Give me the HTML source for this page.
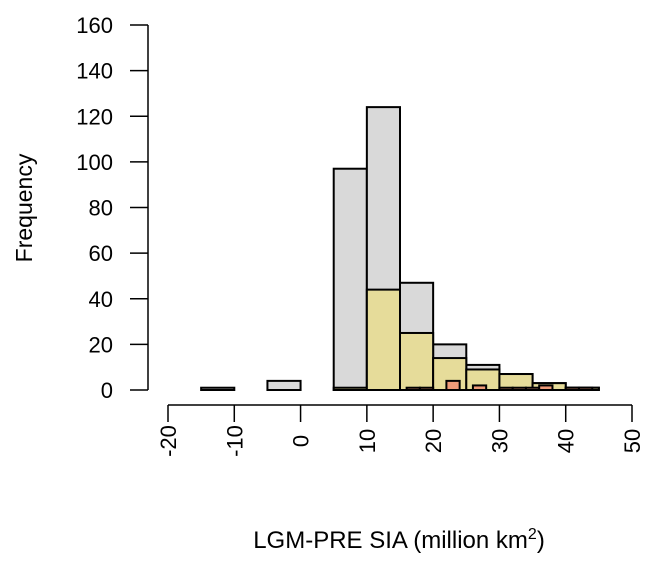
<!DOCTYPE html>
<html><head><meta charset="utf-8"><style>
body{margin:0;background:#fff}
text{font-family:"Liberation Sans",sans-serif;fill:#000}
</style></head><body>
<svg width="655" height="559">
<g id="bars"></g>
<g id="axes"></g>
<text x="32" y="208" font-size="23" transform="rotate(-90 32 208)" text-anchor="middle">Frequency</text>
<text x="399" y="548" font-size="24" text-anchor="middle">LGM-PRE SIA (million km<tspan dy="-9" font-size="16">2</tspan><tspan dy="9">)</tspan></text>
</svg>
<script>
const greyBins=[-15,-10,-5,0,5,10,15,20,25,30,35,40];
const greyCounts=[1,0,4,0,97,124,47,20,11,7,3,1];
const yellowBins=[5,10,15,20,25,30,35,40];
const yellowCounts=[1,44,25,14,9,7,3,1];
const orangeBins=[16,18,20,22,24,26,28,30,32,34,36,38,40,42];
const orangeCounts=[1,1,0,4,0,2,0,1,1,1,2,0,1,1];
const xTicks=[-20,-10,0,10,20,30,40,50];
const yTicks=[0,20,40,60,80,100,120,140,160];
const X=v=>168+(v+20)*(464/70);
const Y=v=>390-v*(365/160);
const NS="http://www.w3.org/2000/svg";
const bars=document.getElementById('bars'),axes=document.getElementById('axes');
function mk(p,tag,a){const e=document.createElementNS(NS,tag);for(const k in a)e.setAttribute(k,a[k]);p.appendChild(e);return e;}
function series(bins,counts,w,fill,name){
 bins.forEach((b,i)=>{if(!counts[i])return;
  const r=mk(bars,'rect',{x:X(b),y:Y(counts[i]),width:X(b+w)-X(b),height:Y(0)-Y(counts[i]),fill:fill,stroke:'#000','stroke-width':2});
  
  
 });
}
series(greyBins,greyCounts,5,'#d9d9d9','grey');
series(yellowBins,yellowCounts,5,'#e6dc9a','yellow');
series(orangeBins,orangeCounts,2,'#ee9a78','orange');
mk(axes,'line',{x1:148,y1:Y(0),x2:148,y2:Y(160),stroke:'#000','stroke-width':1.5});
yTicks.forEach(t=>{mk(axes,'line',{x1:130,x2:148,y1:Y(t),y2:Y(t),stroke:'#000','stroke-width':1.5});
 const tx=mk(axes,'text',{x:113,y:Y(t)+8,'font-size':22,'text-anchor':'end'});tx.textContent=t;
 
 });
mk(axes,'line',{x1:X(-20),x2:X(50),y1:405,y2:405,stroke:'#000','stroke-width':1.5});
xTicks.forEach(t=>{mk(axes,'line',{x1:X(t),x2:X(t),y1:405,y2:422,stroke:'#000','stroke-width':1.5});
 const tx=mk(axes,'text',{x:X(t)+8,y:441,'font-size':22,'text-anchor':'middle',transform:`rotate(-90 ${X(t)+8} 441)`});
 tx.textContent=t;
 
 });
</script>
</body></html>
